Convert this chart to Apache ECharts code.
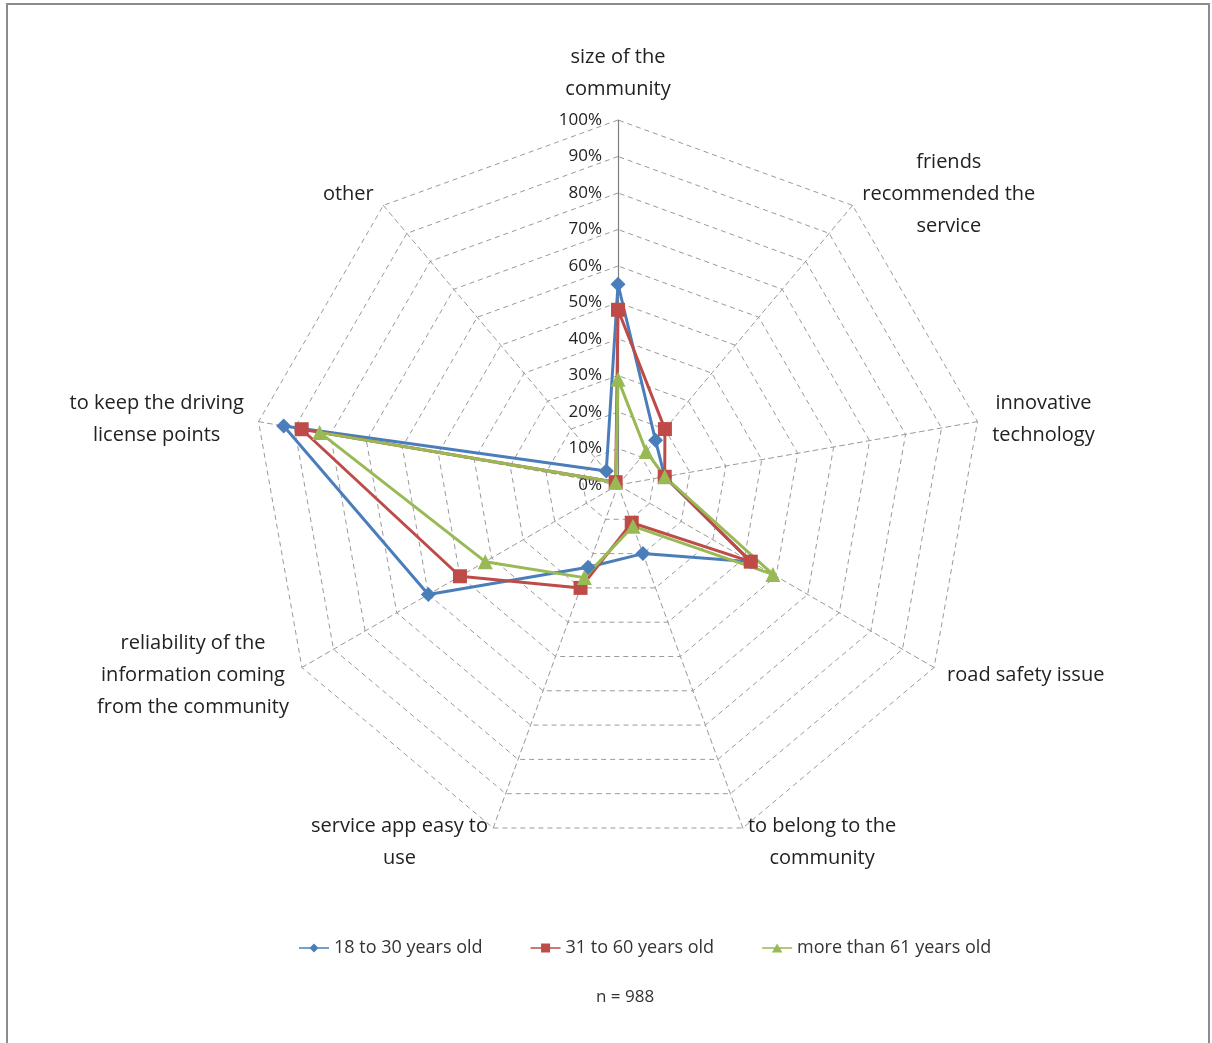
<!DOCTYPE html>
<html>
<head>
<meta charset="utf-8">
<script src="https://cdn.jsdelivr.net/npm/echarts@6/dist/echarts.min.js"></script>
<style>
html,body{margin:0;padding:0;background:#fff;}
#chart{width:1212px;height:1043px;}
</style>
</head>
<body>
<div id="chart"></div>
<script>
// Categories in clockwise order starting from the top
const categories = [
  'size of the\ncommunity',
  'friends\nrecommended the\nservice',
  'innovative\ntechnology',
  'road safety issue',
  'to belong to the\ncommunity',
  'service app easy to\nuse',
  'reliability of the\ninformation coming\nfrom the community',
  'to keep the driving\nlicense points',
  'other'
];
const seriesNames = ['18 to 30 years old', '31 to 60 years old', 'more than 61 years old'];
const young  = [55, 16, 13, 42, 20, 24, 60, 93, 5];
const middle = [48, 20, 13, 42, 11, 30, 50, 88, 1];
const senior = [29, 12, 13, 49, 12, 27, 42, 83, 1];
const footnote = 'n = 988';

const colors = ['#4A7EBB', '#BE4B48', '#98B954'];
const symbols = ['diamond', 'rect', 'triangle'];
const legendIcons = [
  'path://M0,5 L40,5 L40,7 L0,7 Z M20,0 L26,6 L20,12 L14,6 Z',
  'path://M0,5 L40,5 L40,7 L0,7 Z M14,0 L26,0 L26,12 L14,12 Z',
  'path://M0,5 L40,5 L40,7 L0,7 Z M20,0 L27,12 L13,12 Z'
];

// ECharts lays radar indicators counter-clockwise; reorder so the result reads clockwise.
const order = [0, 8, 7, 6, 5, 4, 3, 2, 1];
const reorder = arr => order.map(i => arr[i]);

const FONT = 'Open Sans';
const indicators = reorder(categories).map((name, k) => {
  const ind = { name: name, min: 0, max: 100 };
  if (k === 0) {
    ind.axisLabel = { show: true };
    ind.axisLine = { lineStyle: { color: '#7f7f7f', type: 'solid', width: 1.2 } };
  }
  return ind;
});

const allValues = [young, middle, senior];
const chart = echarts.init(document.getElementById('chart'), null, { renderer: 'canvas' });
chart.setOption({
  backgroundColor: '#ffffff',
  animation: false,
  graphic: [{
    type: 'rect',
    shape: { x: 7, y: 4, width: 1202, height: 1070 },
    style: { fill: 'none', stroke: '#8c8c8c', lineWidth: 2 },
    silent: true, z: -10
  }],
  title: {
    text: footnote,
    left: 591,
    top: 984,
    textStyle: { fontFamily: FONT, fontSize: 17, fontWeight: 'normal', color: '#333' }
  },
  legend: {
    top: 934,
    left: 294,
    itemWidth: 30,
    itemHeight: 10,
    itemGap: 48,
    textStyle: { fontFamily: FONT, fontSize: 18, color: '#333' },
    data: seriesNames.map((n, i) => ({ name: n, icon: legendIcons[i] }))
  },
  radar: {
    center: [618, 485],
    radius: 365,
    startAngle: 90,
    shape: 'polygon',
    splitNumber: 10,
    nameGap: 15,
    axisName: {
      color: '#222',
      fontFamily: FONT,
      fontSize: 20,
      formatter: function (name) {
        return name.split('\n').map(l => '{c|' + l + '}').join('\n');
      },
      rich: {
        c: { align: 'center', fontFamily: FONT, fontSize: 20, lineHeight: 32, color: '#222' }
      }
    },
    splitLine: { lineStyle: { color: '#9a9a9a', type: [5, 4], width: 1 } },
    splitArea: { show: false },
    axisLine: { lineStyle: { color: '#9a9a9a', type: [5, 4], width: 1 } },
    axisTick: { show: false },
    axisLabel: {
      show: false,
      formatter: '{value}%',
      fontFamily: FONT,
      fontSize: 17,
      color: '#222',
      margin: 16
    },
    indicator: indicators
  },
  series: [{
    type: 'radar',
    data: allValues.map((vals, i) => ({
      name: seriesNames[i],
      value: reorder(vals),
      symbol: symbols[i],
      symbolSize: i === 1 ? 14 : 15,
      lineStyle: { color: colors[i], width: 3 },
      itemStyle: { color: colors[i] }
    }))
  }]
});
</script>
</body>
</html>
